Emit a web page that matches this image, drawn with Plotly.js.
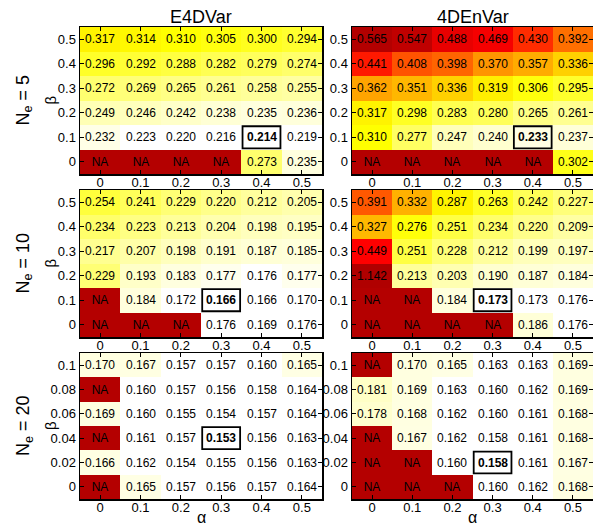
<!DOCTYPE html>
<html>
<head>
<meta charset="utf-8">
<script src="https://cdn.plot.ly/plotly-3.0.1.min.js"></script>
<style>html,body{margin:0;padding:0;background:#fff;}#chart{width:593px;height:525px;}</style>
</head>
<body>
<div id="chart"></div>
<script>
// ---------- DATA ----------
const alphaVals = [0, 0.1, 0.2, 0.3, 0.4, 0.5];
const alphaLabels = ['0', '0.1', '0.2', '0.3', '0.4', '0.5'];
const betaCoarse = [0, 0.1, 0.2, 0.3, 0.4, 0.5];
const betaCoarseLabels = ['0', '0.1', '0.2', '0.3', '0.4', '0.5'];
const betaFine = [0, 0.02, 0.04, 0.06, 0.08, 0.1];
const betaFineLabels = ['0', '0.02', '0.04', '0.06', '0.08', '0.1'];
const methods = ['E4DVar', '4DEnVar'];
const ensembleSizes = ['5', '10', '20'];

// rows: beta ascending (first row = beta 0); columns: alpha 0..0.5 ; null = NA
const e4dvarNe5 = [
  [null, null, null, null, 0.273, 0.235],
  [0.232, 0.223, 0.220, 0.216, 0.214, 0.219],
  [0.249, 0.246, 0.242, 0.238, 0.235, 0.236],
  [0.272, 0.269, 0.265, 0.261, 0.258, 0.255],
  [0.296, 0.292, 0.288, 0.282, 0.279, 0.274],
  [0.317, 0.314, 0.310, 0.305, 0.300, 0.294]
];
const envarNe5 = [
  [null, null, null, null, null, 0.302],
  [0.310, 0.277, 0.247, 0.240, 0.233, 0.237],
  [0.317, 0.298, 0.283, 0.280, 0.265, 0.261],
  [0.362, 0.351, 0.336, 0.319, 0.306, 0.295],
  [0.441, 0.408, 0.398, 0.370, 0.357, 0.336],
  [0.565, 0.547, 0.488, 0.469, 0.430, 0.392]
];
const e4dvarNe10 = [
  [null, null, null, 0.176, 0.169, 0.176],
  [null, 0.184, 0.172, 0.166, 0.166, 0.170],
  [0.229, 0.193, 0.183, 0.177, 0.176, 0.177],
  [0.217, 0.207, 0.198, 0.191, 0.187, 0.185],
  [0.234, 0.223, 0.213, 0.204, 0.198, 0.195],
  [0.254, 0.241, 0.229, 0.220, 0.212, 0.205]
];
const envarNe10 = [
  [null, null, null, null, 0.186, 0.176],
  [null, null, 0.184, 0.173, 0.173, 0.176],
  [1.142, 0.213, 0.203, 0.190, 0.187, 0.184],
  [0.449, 0.251, 0.228, 0.212, 0.199, 0.197],
  [0.327, 0.276, 0.251, 0.234, 0.220, 0.209],
  [0.391, 0.332, 0.287, 0.263, 0.242, 0.227]
];
const e4dvarNe20 = [
  [null, 0.165, 0.157, 0.156, 0.157, 0.164],
  [0.166, 0.162, 0.154, 0.155, 0.156, 0.163],
  [null, 0.161, 0.157, 0.153, 0.156, 0.163],
  [0.169, 0.160, 0.155, 0.154, 0.157, 0.164],
  [null, 0.160, 0.157, 0.156, 0.158, 0.164],
  [0.170, 0.167, 0.157, 0.157, 0.160, 0.165]
];
const envarNe20 = [
  [null, null, null, 0.160, 0.162, 0.168],
  [null, null, 0.160, 0.158, 0.161, 0.167],
  [null, 0.167, 0.162, 0.158, 0.161, 0.168],
  [0.178, 0.168, 0.162, 0.160, 0.161, 0.168],
  [0.181, 0.169, 0.163, 0.160, 0.162, 0.169],
  [null, 0.170, 0.165, 0.163, 0.163, 0.169]
];
// best (alpha, beta) cell in each panel
const bestE4dvarNe5 = [0.4, 0.1];
const bestEnvarNe5 = [0.4, 0.1];
const bestE4dvarNe10 = [0.3, 0.1];
const bestEnvarNe10 = [0.3, 0.1];
const bestE4dvarNe20 = [0.3, 0.04];
const bestEnvarNe20 = [0.3, 0.02];

// ---------- STYLE ----------
const FONT = '"Liberation Sans", Arial, Helvetica, sans-serif';
const NA_COLOR = 'rgb(180,0,0)';
// colour stops per row, in data units
const rowStops = [
  {zmin: 0.214, zmax: 0.57, stops: [[0.214,'rgb(255,255,255)'],[0.2315,'rgb(255,255,255)'],[0.2316,'rgb(255,255,232)'],[0.31,'rgb(255,255,0)'],[0.455,'rgb(255,0,0)'],[0.57,'rgb(176,0,0)']]},
  {zmin: 0.166, zmax: 0.6, stops: [[0.166,'rgb(255,255,255)'],[0.1765,'rgb(255,255,255)'],[0.1766,'rgb(255,255,238)'],[0.28,'rgb(255,255,0)'],[0.449,'rgb(255,0,0)'],[0.56,'rgb(176,0,0)'],[0.6,'rgb(176,0,0)']]},
  {zmin: 0.153, zmax: 0.3, stops: [[0.153,'rgb(255,255,255)'],[0.1645,'rgb(255,255,255)'],[0.1646,'rgb(255,255,228)'],[0.172,'rgb(255,255,222)'],[0.182,'rgb(255,255,195)'],[0.25,'rgb(255,255,0)'],[0.3,'rgb(255,255,0)']]}
];
function toScale(r) {
  return r.stops.map(s => [(s[0] - r.zmin) / (r.zmax - r.zmin), s[1]]);
}

const panels = [
  {vals: e4dvarNe5, beta: betaCoarse, bl: betaCoarseLabels, row: 0, col: 0, best: bestE4dvarNe5},
  {vals: envarNe5, beta: betaCoarse, bl: betaCoarseLabels, row: 0, col: 1, best: bestEnvarNe5},
  {vals: e4dvarNe10, beta: betaCoarse, bl: betaCoarseLabels, row: 1, col: 0, best: bestE4dvarNe10},
  {vals: envarNe10, beta: betaCoarse, bl: betaCoarseLabels, row: 1, col: 1, best: bestEnvarNe10},
  {vals: e4dvarNe20, beta: betaFine, bl: betaFineLabels, row: 2, col: 0, best: bestE4dvarNe20},
  {vals: envarNe20, beta: betaFine, bl: betaFineLabels, row: 2, col: 1, best: bestEnvarNe20}
];

const W = 593, H = 525;
const colPx = [[80, 322], [352, 593]];
const rowPx = [[27, 174], [190, 337], [353, 499]];

const traces = [];
const layout = {
  width: W, height: H,
  margin: {l: 0, r: 0, t: 0, b: 0},
  paper_bgcolor: '#fff', plot_bgcolor: '#fff',
  showlegend: false,
  font: {family: FONT, color: '#000'},
  annotations: [], shapes: []
};

panels.forEach((p, k) => {
  const n = k + 1;
  const xa = 'x' + (n === 1 ? '' : n), ya = 'y' + (n === 1 ? '' : n);
  const xKey = 'xaxis' + (n === 1 ? '' : n), yKey = 'yaxis' + (n === 1 ? '' : n);
  const r = rowStops[p.row];
  const bstep = p.beta[1] - p.beta[0];
  const astep = alphaVals[1] - alphaVals[0];
  const best = p.best;

  // NA cells
  traces.push({
    type: 'heatmap', x: alphaVals, y: p.beta, xaxis: xa, yaxis: ya,
    z: p.vals.map(row => row.map(v => v === null ? 1 : null)),
    text: p.vals.map(row => row.map(v => v === null ? 'NA' : ' ')),
    texttemplate: '%{text}',
    textfont: {family: FONT, size: 12, color: '#000'},
    colorscale: [[0, NA_COLOR], [1, NA_COLOR]], zmin: 0, zmax: 1,
    showscale: false, hoverinfo: 'skip', xgap: 0, ygap: 0
  });
  // value cells
  traces.push({
    type: 'heatmap', x: alphaVals, y: p.beta, xaxis: xa, yaxis: ya,
    z: p.vals,
    text: p.vals.map((row, i) => row.map((v, j) => {
      if (v === null) return ' ';
      const s = v.toFixed(3);
      const isBest = Math.abs(alphaVals[j] - best[0]) < 1e-9 && Math.abs(p.beta[i] - best[1]) < 1e-9;
      return isBest ? '<b>' + s + '</b>' : s;
    })),
    texttemplate: '%{text}',
    textfont: {family: FONT, size: 12, color: '#000'},
    colorscale: toScale(r), zmin: r.zmin, zmax: r.zmax,
    showscale: false, hoverinfo: 'skip'
  });

  const common = {
    showgrid: false, zeroline: false, showline: true, linecolor: '#000', linewidth: 1.5,
    mirror: 'allticks', ticks: 'inside', ticklen: 4, tickwidth: 1, tickcolor: '#000',
    tickfont: {family: FONT, size: 13, color: '#000'}, fixedrange: true
  };
  layout[xKey] = Object.assign({}, common, {
    domain: [colPx[p.col][0] / W, colPx[p.col][1] / W],
    range: [alphaVals[0] - astep / 2, alphaVals[alphaVals.length - 1] + astep / 2],
    tickvals: alphaVals, ticktext: alphaLabels, anchor: ya, ticklabelstandoff: -4
  });
  layout[yKey] = Object.assign({}, common, {
    domain: [(H - rowPx[p.row][1]) / H, (H - rowPx[p.row][0]) / H],
    range: [p.beta[0] - bstep / 2, p.beta[p.beta.length - 1] + bstep / 2],
    tickvals: p.beta, ticktext: p.bl, anchor: xa
  });

  // box round best cell
  layout.shapes.push({
    type: 'rect', xref: xa, yref: ya,
    x0: best[0] - astep * 0.47, x1: best[0] + astep * 0.47,
    y0: best[1] - bstep * 0.45, y1: best[1] + bstep * 0.45,
    line: {color: '#000', width: 1.8}, layer: 'above'
  });
});

// column titles and alpha labels
methods.forEach((m, c) => {
  const cx = (colPx[c][0] + colPx[c][1]) / 2 / W;
  layout.annotations.push({text: m, x: cx, y: (H - 17) / H, xref: 'paper', yref: 'paper',
    xanchor: 'center', yanchor: 'middle', showarrow: false, font: {family: FONT, size: 18, color: '#000'}});
  layout.annotations.push({text: 'α', x: cx, y: 0, xref: 'paper', yref: 'paper',
    xanchor: 'center', yanchor: 'bottom', yshift: -3, showarrow: false, font: {family: FONT, size: 16, color: '#000'}});
});
// row labels
ensembleSizes.forEach((ne, rI) => {
  const cy = (H - (rowPx[rI][0] + rowPx[rI][1]) / 2) / H;
  layout.annotations.push({text: 'β', x: 50 / W, y: cy, xref: 'paper', yref: 'paper', textangle: -90,
    xanchor: 'center', yanchor: 'middle', showarrow: false, font: {family: FONT, size: 15, color: '#000'}});
  layout.annotations.push({text: 'N<sub>e</sub> = ' + ne, x: 24 / W, y: cy, xref: 'paper', yref: 'paper', textangle: -90,
    xanchor: 'center', yanchor: 'middle', showarrow: false, font: {family: FONT, size: 18, color: '#000'}});
});

Plotly.newPlot('chart', traces, layout, {displayModeBar: false, staticPlot: true});
</script>
</body>
</html>
